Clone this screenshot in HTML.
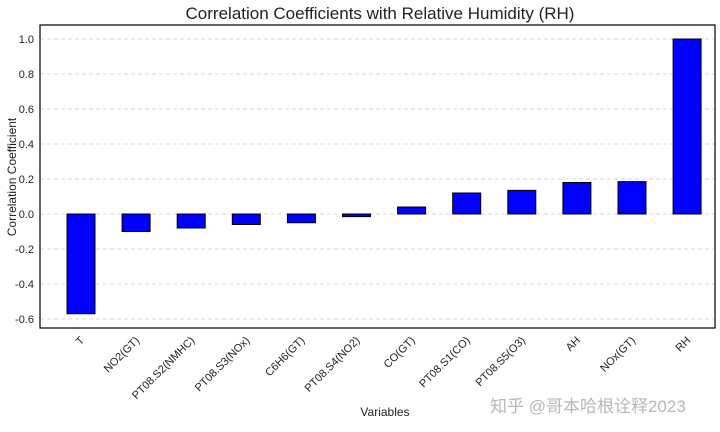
<!DOCTYPE html>
<html><head><meta charset="utf-8"><style>
body{margin:0;background:#fff;}
svg text{font-family:"Liberation Sans","Noto Sans CJK SC",sans-serif;}
</style></head><body>
<svg id="chart" width="720" height="427">
<text x="380" y="19" font-size="17" text-anchor="middle" fill="#222">Correlation Coefficients with Relative Humidity (RH)</text>
<text transform="translate(16,177) rotate(-90)" font-size="12" text-anchor="middle" fill="#222">Correlation Coefficient</text>
<text x="385" y="416" font-size="12" text-anchor="middle" fill="#222">Variables</text>
<g id="grid"></g><g id="bars"></g><g id="yticks"></g><g id="xticks"></g>
<rect x="40" y="25" width="675" height="303" fill="none" stroke="#000" stroke-width="1.2"/>
<text x="490" y="412" font-size="17" fill="#888" opacity="0.6">知乎 @哥本哈根诠释2023</text>
</svg>
<script>
const categories=["T","NO2(GT)","PT08.S2(NMHC)","PT08.S3(NOx)","C6H6(GT)","PT08.S4(NO2)","CO(GT)","PT08.S1(CO)","PT08.S5(O3)","AH","NOx(GT)","RH"];
const values=[-0.57,-0.10,-0.08,-0.06,-0.05,-0.015,0.04,0.12,0.135,0.18,0.185,1.0];
const yTicks=[-0.6,-0.4,-0.2,0.0,0.2,0.4,0.6,0.8,1.0];
const NS="http://www.w3.org/2000/svg";
function y(v){return 214-v*175;}
function x(i){return 81+i*55.1;}
const bw=28;
const grid=document.getElementById('grid'),bars=document.getElementById('bars'),yt=document.getElementById('yticks'),xt=document.getElementById('xticks');
yTicks.forEach(t=>{
 const l=document.createElementNS(NS,'line');
 l.setAttribute('x1',40);l.setAttribute('x2',715);l.setAttribute('y1',y(t));l.setAttribute('y2',y(t));
 l.setAttribute('stroke','#ccc');l.setAttribute('stroke-dasharray','4,3');l.setAttribute('stroke-width','0.8');
 
 
 grid.appendChild(l);
 const tk=document.createElementNS(NS,'text');
 tk.setAttribute('x',34);tk.setAttribute('y',y(t)+4);tk.setAttribute('font-size','11');tk.setAttribute('text-anchor','end');tk.setAttribute('fill','#222');
 tk.textContent=t.toFixed(1);
 
 
 yt.appendChild(tk);
});
categories.forEach((c,i)=>{
 const v=values[i];
 const r=document.createElementNS(NS,'rect');
 r.setAttribute('x',x(i)-bw/2);r.setAttribute('width',bw);
 r.setAttribute('y',Math.min(y(v),y(0)));r.setAttribute('height',Math.abs(y(v)-y(0)));
 r.setAttribute('fill','#0000ff');r.setAttribute('stroke','#000');r.setAttribute('stroke-width','1');
 
 
 bars.appendChild(r);
 const tk=document.createElementNS(NS,'text');
 tk.setAttribute('transform','translate('+(x(i)+4)+',341) rotate(-45)');
 tk.setAttribute('font-size','11');tk.setAttribute('text-anchor','end');tk.setAttribute('fill','#222');
 tk.textContent=c;
 
 
 xt.appendChild(tk);
});
</script>
</body></html>
